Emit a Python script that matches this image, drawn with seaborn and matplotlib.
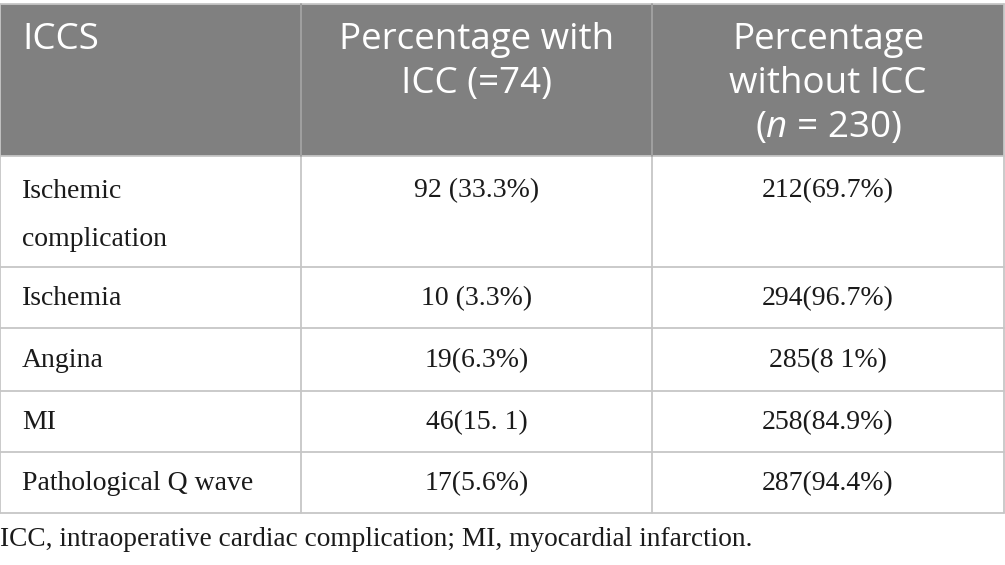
import matplotlib
matplotlib.use("Agg")
import matplotlib.pyplot as plt
import seaborn as sns

sns.set_theme(style="white")
plt.rcParams['font.family'] = ['Liberation Serif', 'DejaVu Serif']
plt.rcParams['mathtext.fontset'] = 'custom'
plt.rcParams['mathtext.it'] = 'Open Sans:italic'
plt.rcParams['mathtext.rm'] = 'Open Sans'

# table content
header_labels = ["ICCS", "Percentage with\nICC (=74)", "Percentage\nwithout ICC\n($n$ = 230)"]
row_labels = ["Ischemic\ncomplication", "Ischemia", "Angina", "MI", "Pathological Q wave"]
with_icc = ["92 (33.3%)", "10 (3.3%)", "19(6.3%)", "46(15. 1)", "17(5.6%)"]
without_icc = ["212(69.7%)", "294(96.7%)", "285(8 1%)", "258(84.9%)", "287(94.4%)"]
footnote = "ICC, intraoperative cardiac complication; MI, myocardial infarction."

# layout (pixels)
W, H = 1005, 565
col_edges = [0, 301, 652, 1004]
row_edges = [4, 156, 267, 328, 391, 452, 513]
header_bg = "#808080"
grid_col = "#c6c6c6"

fig = plt.figure(figsize=(W / 100, H / 100), dpi=100)
ax = fig.add_axes([0, 0, 1, 1])
ax.set_xlim(0, W)
ax.set_ylim(H, 0)
ax.axis("off")

# header background
ax.fill_between([col_edges[0], col_edges[-1]], row_edges[0], row_edges[1],
                color=header_bg, lw=0)

# grid lines
for y in row_edges:
    ax.plot([col_edges[0], col_edges[-1]], [y, y], color=grid_col, lw=1.3)
for x in col_edges:
    ax.plot([x, x], [row_edges[0], row_edges[-1]], color=grid_col, lw=1.3)
for x in col_edges[1:-1]:
    ax.plot([x, x], [row_edges[0], row_edges[1]], color="#9c9c9c", lw=1.3)

# header text, one line at a time so the italic n does not shift the spacing
hdr_kw = dict(color="white", fontsize=26.5, family="Open Sans", va="baseline")
for j, lab in enumerate(header_labels):
    for k, ln in enumerate(lab.split("\n")):
        yb = 49 + 44 * k
        if j == 0:
            ax.text(22, yb, ln, ha="left", **hdr_kw)
        else:
            cx = (col_edges[j] + col_edges[j + 1]) / 2
            ax.text(cx, yb, ln, ha="center", **hdr_kw)

# body
body_kw = dict(color="#1a1a1a", fontsize=20)
for i, lab in enumerate(row_labels):
    top, bot = row_edges[i + 1], row_edges[i + 2]
    lines = lab.split("\n")
    if len(lines) > 1:
        ys = [top + 35, top + 84]
    else:
        ys = [(top + bot) / 2 + 1]
    for k, ln in enumerate(lines):
        ax.text(22, ys[k], ln, ha="left", va="center", **body_kw)
    cx2 = (col_edges[1] + col_edges[2]) / 2
    cx3 = (col_edges[2] + col_edges[3]) / 2
    ax.text(cx2, ys[0], with_icc[i], ha="center", va="center", **body_kw)
    ax.text(cx3, ys[0], without_icc[i], ha="center", va="center", **body_kw)

ax.text(0, 539, footnote, ha="left", va="center", color="#1a1a1a", fontsize=19.7)

fig.savefig("out.png", dpi=100)
